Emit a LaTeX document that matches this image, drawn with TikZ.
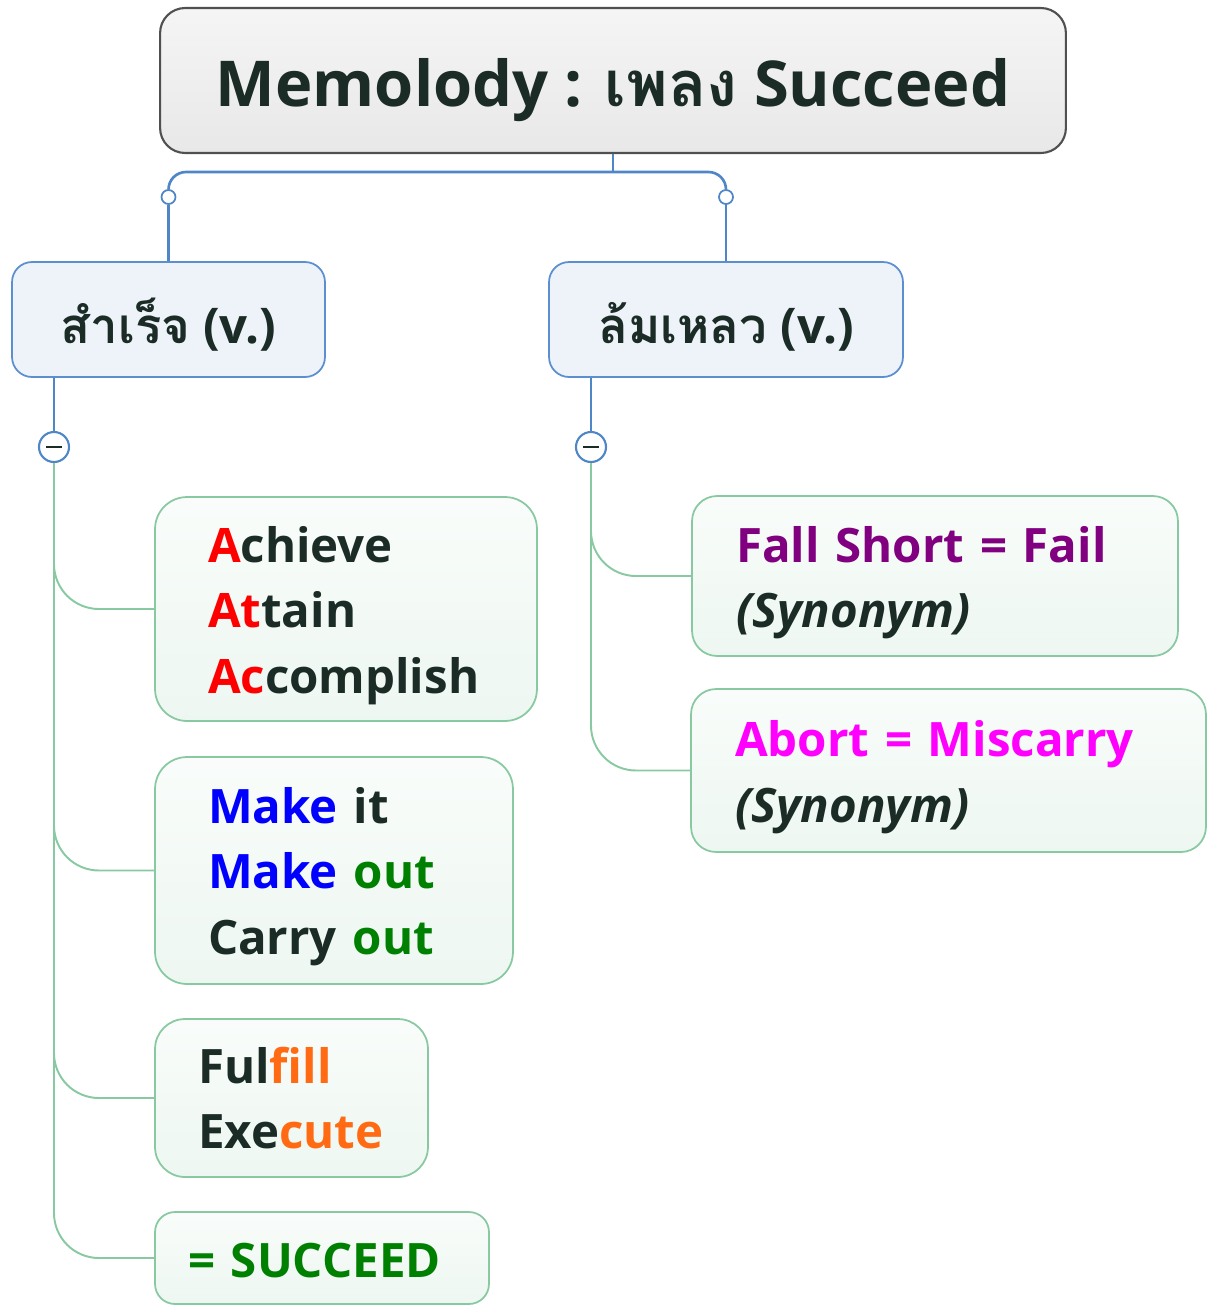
\documentclass[tikz,border=0pt]{standalone}
\usepackage{fontspec}
\setmainfont{Open Sans}
\newfontfamily\thaifont[Script=Thai]{Loma}

\definecolor{txtdark}{HTML}{1B2B26}
\definecolor{rootline}{HTML}{505050}
\definecolor{topicline}{HTML}{5B8FD0}
\definecolor{topicfill}{HTML}{EEF3FA}
\definecolor{leafline}{HTML}{88C9A1}
\definecolor{linkblue}{HTML}{4F86C6}
\definecolor{linkgreen}{HTML}{88C9A1}
\definecolor{accred}{HTML}{FF0000}
\definecolor{accblue}{HTML}{0000FF}
\definecolor{accgreen}{HTML}{008000}
\definecolor{accorange}{HTML}{FF6A13}
\definecolor{accpurple}{HTML}{800080}
\definecolor{accmagenta}{HTML}{FF00FF}

\tikzset{
  root/.style={draw=rootline, top color=white!96!black, bottom color=white!91!black,
    line width=1.2pt, rounded corners=0.5cm, minimum width=18.12cm, minimum height=2.9cm,
    text height=29.6pt, text depth=0pt,
    font=\fontsize{36}{44}\selectfont\bfseries, text=txtdark},
  topic/.style={draw=topicline, fill=topicfill, line width=1pt, rounded corners=0.4cm,
    minimum height=2.3cm, text height=27pt, text depth=0pt,
    font=\fontsize{28}{34}\selectfont\bfseries, text=txtdark},
  leaf/.style={draw=leafline, top color=white!95!leafline, bottom color=white!85!leafline,
    line width=1pt, align=left, inner ysep=0pt, rounded corners=0.64cm,
    font=\fontsize{27}{37.1}\selectfont\bfseries, text=txtdark},
  bluelink/.style={draw=linkblue, line width=1.5pt},
  greenlink/.style={draw=linkgreen, line width=1.1pt, rounded corners=0.9cm},
  knob/.style={circle, draw=linkblue, fill=white, line width=1pt, inner sep=0pt, minimum size=0.28cm},
  toggle/.style={circle, draw=linkblue, fill=white, line width=1.2pt, inner sep=0pt, minimum size=0.6cm},
}

\begin{document}
\begin{tikzpicture}[x=0.02cm, y=-0.02cm]

    \useasboundingbox (0,0) rectangle (1208,1306);

    % level 0
    \node[root] (title) at (613,80.5) {Memolody : {\thaifont เพลง} Succeed};

    % level 1
    \node[topic, minimum width=6.26cm] (sub1) at (168.5,319.5) {{\thaifont สำเร็จ} (v.)};
    \node[topic, minimum width=7.08cm] (sub2) at (726,319.5) {{\thaifont ล้มเหลว} (v.)};

    \node[knob] (k1) at (168.5,197) {};
    \node[knob] (k2) at (726,197) {};
    \coordinate (fork) at (613,172);

    \node[toggle] (t1) at (54,447) {};
    \node[toggle] (t2) at (591,447) {};

    % level 2 (left)
    \node[leaf, minimum height=4.48cm, inner xsep=1.06cm, text width=5.52cm, text height=28pt] (a1) at (346,609)
      {\textcolor{accred}{A}chieve\\\textcolor{accred}{At}tain\\\textcolor{accred}{Ac}complish};
    \node[leaf, minimum height=4.54cm, inner xsep=1.06cm, text width=5.04cm, text height=27.5pt] (a2) at (334,870.5)
      {\textcolor{accblue}{Make} it\\\textcolor{accblue}{Make} \textcolor{accgreen}{out}\\Carry \textcolor{accgreen}{out}};
    \node[leaf, minimum height=3.16cm, inner xsep=0.86cm, text width=3.74cm, rounded corners=0.6cm] (a3) at (291.5,1098)
      {Ful\textcolor{accorange}{fill}\\Exe\textcolor{accorange}{cute}};
    \node[leaf, minimum height=1.84cm, inner xsep=0.66cm, text width=5.36cm, text height=22.8pt, rounded corners=0.4cm] (a4) at (322,1258)
      {\textcolor{accgreen}{= SUCCEED}};

    % level 2 (right)
    \node[leaf, minimum height=3.2cm, inner xsep=0.88cm, text width=7.96cm, text height=28pt, rounded corners=0.5cm] (b1) at (935,576)
      {\textcolor{accpurple}{Fall Short = Fail}\\\textit{(Synonym)}};
    \node[leaf, minimum height=3.26cm, inner xsep=0.88cm, text width=8.54cm, text height=28pt, rounded corners=0.5cm] (b2) at (948.5,770.5)
      {\textcolor{accmagenta}{Abort = Miscarry}\\\textit{(Synonym)}};

    \draw [bluelink] (title.south) -- (fork);
    \draw [bluelink, rounded corners=0.35cm] (k1) |- (fork) -| (k2);
    \draw [bluelink] (k1) -- (sub1.north);
    \draw [bluelink] (k2) -- (sub2.north);
    \draw [bluelink] (sub1.south -| t1) -- (t1);
    \draw [bluelink] (sub2.south -| t2) -- (t2);
    \draw [line width=1.4pt, txtdark] ([xshift=-4.5pt]t1.center) -- ([xshift=4.5pt]t1.center);
    \draw [line width=1.4pt, txtdark] ([xshift=-4.5pt]t2.center) -- ([xshift=4.5pt]t2.center);

    \draw [greenlink] (t1) |- (a1.west);
    \draw [greenlink] (t1) |- (a2.west);
    \draw [greenlink] (t1) |- (a3.west);
    \draw [greenlink] (t1) |- (a4.west);
    \draw [greenlink] (t2) |- (b1.west);
    \draw [greenlink] (t2) |- (b2.west);

  \end{tikzpicture}
\end{document}
